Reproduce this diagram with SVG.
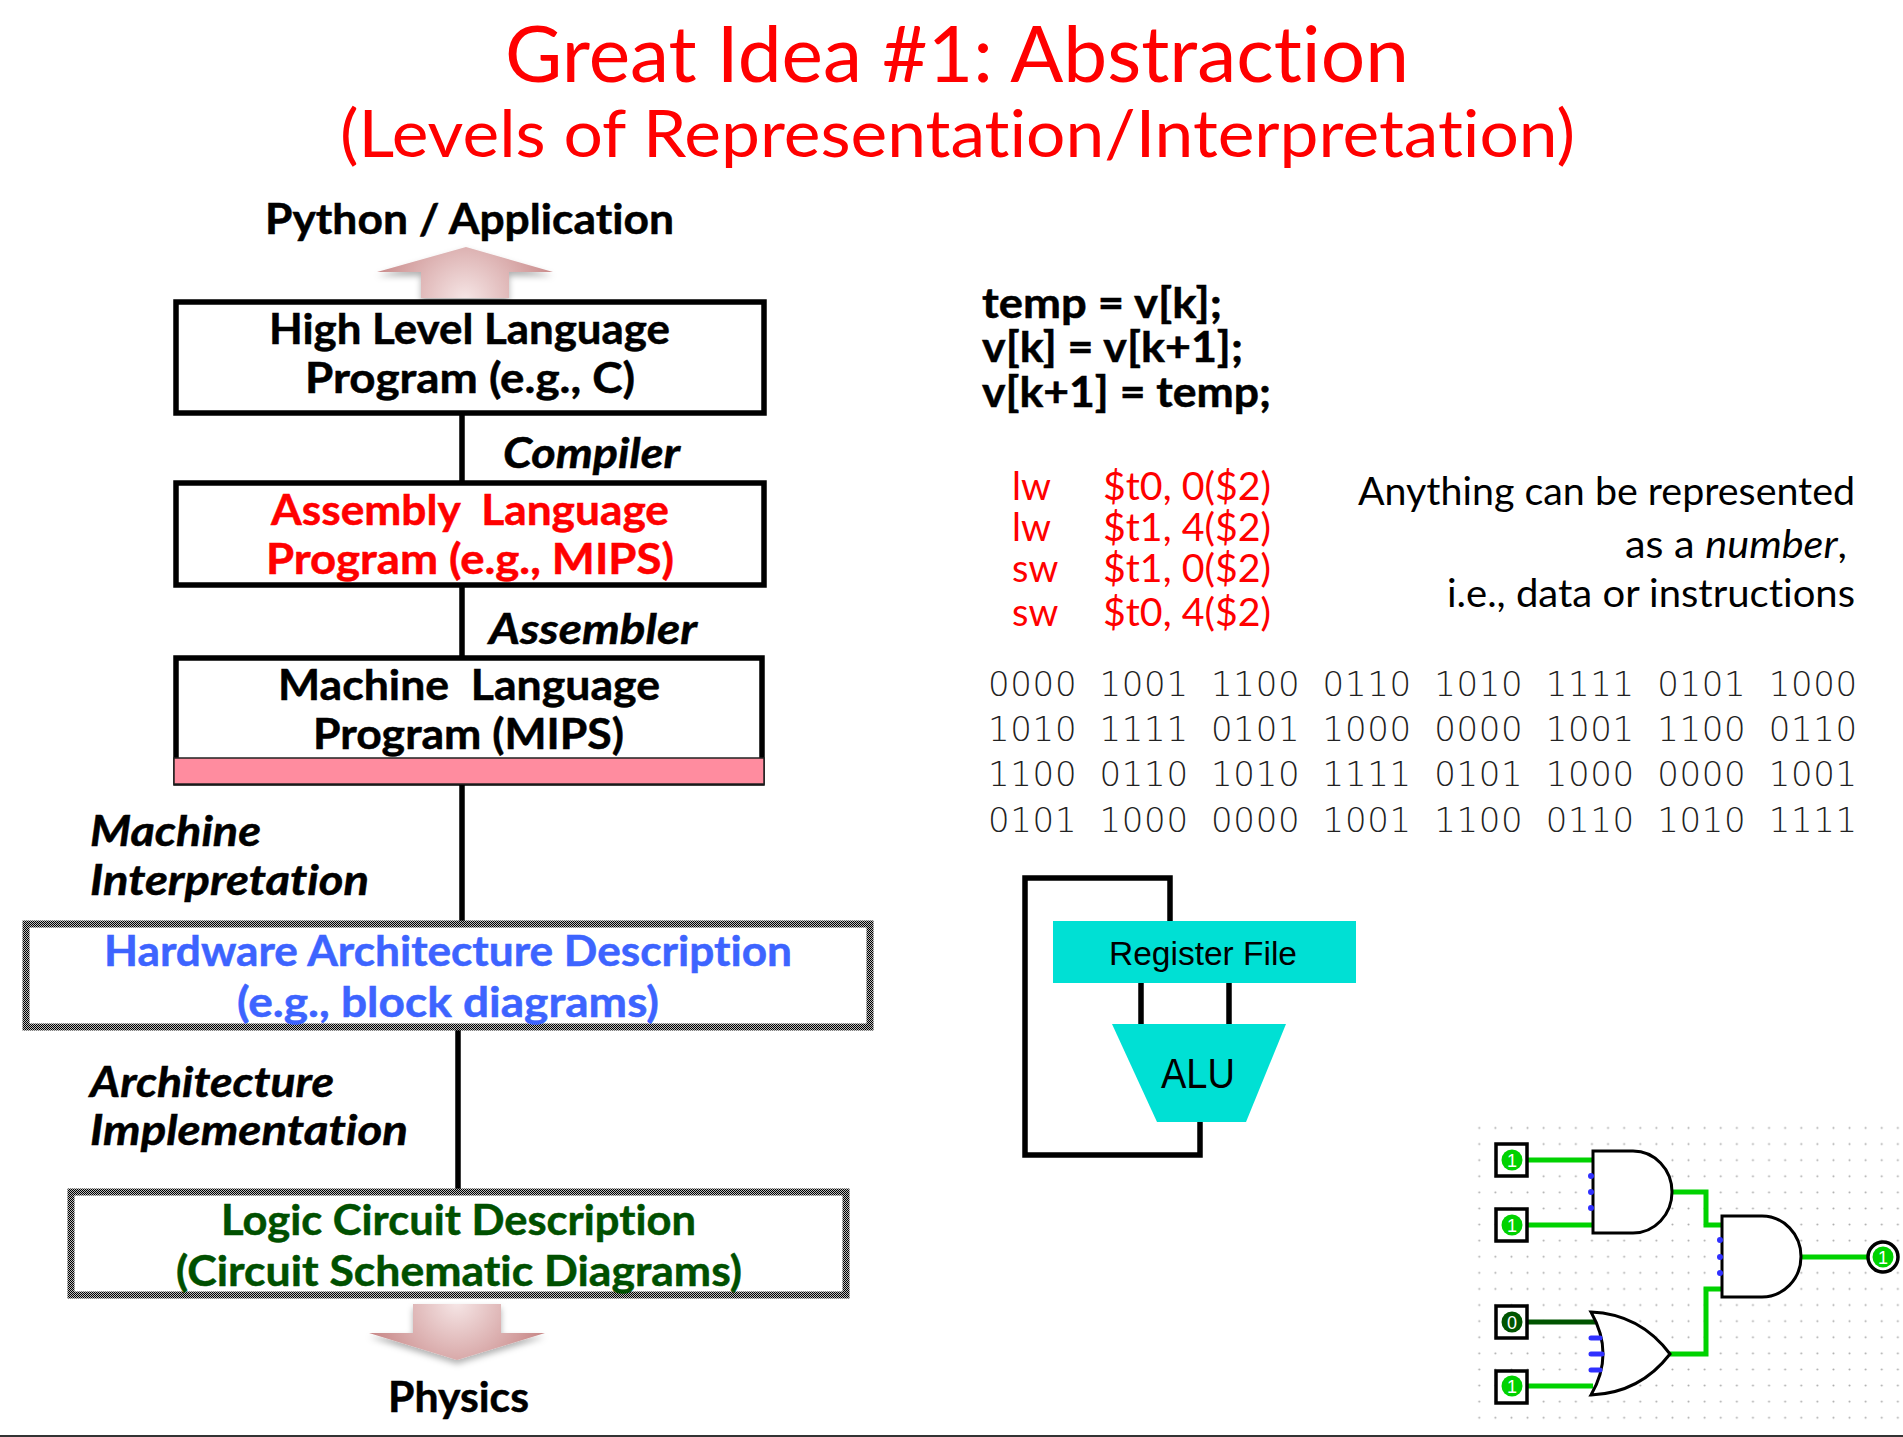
<svg xmlns="http://www.w3.org/2000/svg" width="1903" height="1437" viewBox="0 0 1903 1437">
<style>
text{font-family:"Lato","Liberation Sans",sans-serif;font-variant-ligatures:none}
.t{fill:#f00;font-size:78px}
.t2{fill:#f00;font-size:66px}
.b{font-weight:700;font-size:42px;fill:#000;stroke:#000;stroke-width:.5}
.i{font-weight:700;font-style:italic;font-size:42px;fill:#000;stroke:#000;stroke-width:.5}
.red{fill:#f00;stroke:#f00}.blue{fill:#3d64ff;stroke:#3d64ff}.green{fill:#005000;stroke:#005000}
.n{font-size:39px;fill:#000}
.asm{font-size:38px;fill:#f00}
.bin{font-family:"DejaVu Sans",sans-serif;font-weight:200;font-size:34px;letter-spacing:.66px;word-spacing:10.9px;fill:#222}
.box{fill:#fff;stroke:#000;stroke-width:5.5}
.dbox{fill:#fff;stroke:url(#dither);stroke-width:7}
.conn{fill:none;stroke:#000;stroke-width:5.5}
.cy{fill:#00e0d4}
.ar{font-family:"Liberation Sans",sans-serif;fill:#000}
.g{fill:#fff;stroke:#000;stroke-width:3}
.pin{fill:#fff;stroke:#000;stroke-width:3.5}
.on{fill:#00d200}.off{fill:#005400}
.w{fill:none;stroke:#00d200;stroke-width:5}
.wd{fill:none;stroke:#005400;stroke-width:5}
.bd{fill:#3030ff}
.bs{fill:none;stroke:#3030ff;stroke-width:5;stroke-linecap:round}
.v{font-family:"Liberation Sans",sans-serif;font-size:18px;fill:#fff;text-anchor:middle}
</style>
<defs>
<pattern id="dither" width="2" height="2" patternUnits="userSpaceOnUse"><rect width="2" height="2" fill="#bbb"/><rect width="1" height="1" fill="#000"/><rect x="1" y="1" width="1" height="1" fill="#000"/></pattern>
<pattern id="dots" x="1471.2" y="1119.9" width="16.1" height="16.1" patternUnits="userSpaceOnUse"><circle cx="8.05" cy="8.05" r="1" fill="#aaa"/></pattern>
<radialGradient id="gu" gradientUnits="userSpaceOnUse" cx="465" cy="300" r="95"><stop offset="0" stop-color="#f6e6e6"/><stop offset="1" stop-color="#c88888"/></radialGradient>
<radialGradient id="gd" gradientUnits="userSpaceOnUse" cx="457" cy="1302" r="90"><stop offset="0" stop-color="#f6e6e6"/><stop offset="1" stop-color="#c88888"/></radialGradient>
<filter id="sh" x="-20%" y="-20%" width="140%" height="150%"><feDropShadow dx="0" dy="4" stdDeviation="3" flood-color="#000" flood-opacity=".3"/></filter>
</defs>
<rect width="1903" height="1437" fill="#fff"/>
<rect y="1435" width="1903" height="2" fill="#333"/>

<g id="title">
<text class="t" x="505" y="82" textLength="904" lengthAdjust="spacingAndGlyphs">Great Idea #1: Abstraction</text>
<text class="t2" x="340" y="157" textLength="1235" lengthAdjust="spacingAndGlyphs">(Levels of Representation/Interpretation)</text>
</g>

<g id="connectors">
<path class="conn" d="M462 413V483M462 585V658M462 784V921M458 1029V1190"/>
<path class="conn" d="M1170 921V878H1025V1155H1200V1122"/>
<path class="conn" d="M1141 981V1024M1229 981V1024"/>
</g>

<g id="arrow-up"><path d="M466 247L553 272H509V298H421V272H377Z" fill="url(#gu)" filter="url(#sh)"/></g>
<g id="python"><text class="b" x="265" y="234" textLength="409" lengthAdjust="spacingAndGlyphs">Python / Application</text></g>

<g id="hll"><rect class="box" x="176" y="302" width="588" height="111"/>
<text class="b" x="269" y="344" textLength="401" lengthAdjust="spacingAndGlyphs">High Level Language</text>
<text class="b" x="305" y="393" textLength="330" lengthAdjust="spacingAndGlyphs">Program (e.g., C)</text></g>
<g id="compiler"><text class="i" x="503" y="468" textLength="177" lengthAdjust="spacingAndGlyphs">Compiler</text></g>

<g id="assembly"><rect class="box" x="176" y="483" width="588" height="102"/>
<text class="b red" x="271" y="525" textLength="398" lengthAdjust="spacingAndGlyphs" xml:space="preserve">Assembly  Language</text>
<text class="b red" x="266" y="574" textLength="408" lengthAdjust="spacingAndGlyphs">Program (e.g., MIPS)</text></g>
<g id="assembler"><text class="i" x="489" y="644" textLength="208" lengthAdjust="spacingAndGlyphs">Assembler</text></g>

<g id="machine"><rect class="box" x="176" y="658" width="586" height="125"/>
<rect x="174" y="758" width="590" height="26" fill="#ff8c9f" stroke="#222" stroke-width="1.5"/>
<text class="b" x="278" y="700" textLength="382" lengthAdjust="spacingAndGlyphs" xml:space="preserve">Machine  Language</text>
<text class="b" x="313" y="749" textLength="311" lengthAdjust="spacingAndGlyphs">Program (MIPS)</text></g>

<g id="machine-interp"><text class="i" x="90" y="846" textLength="171" lengthAdjust="spacingAndGlyphs">Machine</text>
<text class="i" x="90" y="895" textLength="279" lengthAdjust="spacingAndGlyphs">Interpretation</text></g>

<g id="hardware"><rect class="dbox" x="26" y="924" width="844" height="103"/>
<text class="b blue" x="104" y="966" textLength="688" lengthAdjust="spacingAndGlyphs">Hardware Architecture Description</text>
<text class="b blue" x="237" y="1017" textLength="422" lengthAdjust="spacingAndGlyphs">(e.g., block diagrams)</text></g>

<g id="arch-impl"><text class="i" x="90" y="1097" textLength="244" lengthAdjust="spacingAndGlyphs">Architecture</text>
<text class="i" x="90" y="1145" textLength="318" lengthAdjust="spacingAndGlyphs">Implementation</text></g>

<g id="logic"><rect class="dbox" x="71" y="1192" width="775" height="103"/>
<text class="b green" x="221" y="1235" textLength="475" lengthAdjust="spacingAndGlyphs">Logic Circuit Description</text>
<text class="b green" x="176" y="1286" textLength="566" lengthAdjust="spacingAndGlyphs">(Circuit Schematic Diagrams)</text></g>

<g id="arrow-down"><path d="M413 1304H501V1333H545L457 1360L369 1333H413Z" fill="url(#gd)" filter="url(#sh)"/></g>
<g id="physics"><text class="b" x="388" y="1412" textLength="141" lengthAdjust="spacingAndGlyphs">Physics</text></g>

<g id="code">
<text class="b" x="982" y="318" textLength="240" lengthAdjust="spacingAndGlyphs">temp = v[k];</text>
<text class="b" x="982" y="362" textLength="261" lengthAdjust="spacingAndGlyphs">v[k] = v[k+1];</text>
<text class="b" x="982" y="407" textLength="289" lengthAdjust="spacingAndGlyphs">v[k+1] = temp;</text>
</g>

<g id="asm">
<text class="asm" x="1012" y="500" textLength="39" lengthAdjust="spacingAndGlyphs">lw</text><text class="asm" x="1103" y="500" textLength="168" lengthAdjust="spacingAndGlyphs">$t0, 0($2)</text>
<text class="asm" x="1012" y="541" textLength="39" lengthAdjust="spacingAndGlyphs">lw</text><text class="asm" x="1103" y="541" textLength="168" lengthAdjust="spacingAndGlyphs">$t1, 4($2)</text>
<text class="asm" x="1012" y="582">sw</text><text class="asm" x="1103" y="582" textLength="168" lengthAdjust="spacingAndGlyphs">$t1, 0($2)</text>
<text class="asm" x="1012" y="626">sw</text><text class="asm" x="1103" y="626" textLength="168" lengthAdjust="spacingAndGlyphs">$t0, 4($2)</text>
</g>

<g id="note">
<text class="n" x="1358" y="505" textLength="497" lengthAdjust="spacingAndGlyphs">Anything can be represented</text>
<text class="n" x="1625" y="558" textLength="222" lengthAdjust="spacingAndGlyphs">as a <tspan font-style="italic">number</tspan>,</text>
<text class="n" x="1447" y="607" textLength="408" lengthAdjust="spacingAndGlyphs">i.e., data or instructions</text>
</g>

<g id="binary">
<text class="bin" x="988" y="696">0000 1001 1100 0110 1010 1111 0101 1000</text>
<text class="bin" x="988" y="741">1010 1111 0101 1000 0000 1001 1100 0110</text>
<text class="bin" x="988" y="786">1100 0110 1010 1111 0101 1000 0000 1001</text>
<text class="bin" x="988" y="832">0101 1000 0000 1001 1100 0110 1010 1111</text>
</g>

<g id="register-file"><rect class="cy" x="1053" y="921" width="303" height="62"/>
<text class="ar" x="1109" y="965" font-size="33" textLength="188" lengthAdjust="spacingAndGlyphs">Register File</text></g>
<g id="alu"><path class="cy" d="M1112 1024H1286L1246 1122H1157Z"/>
<text class="ar" x="1161" y="1088" font-size="42" textLength="74" lengthAdjust="spacingAndGlyphs">ALU</text></g>

<g id="circuit">
<rect x="1471" y="1120" width="432" height="306" fill="url(#dots)"/>
<path class="w" d="M1528 1160H1593M1528 1225H1593M1672 1192H1706V1225H1722M1670 1354H1706V1289H1722M1801 1257H1868M1528 1386H1593"/>
<path class="wd" d="M1528 1322H1596"/>
<g id="and1"><path class="g" d="M1593 1151H1633A39 41 0 0 1 1633 1233H1593Z"/></g>
<g id="and2"><path class="g" d="M1722 1216H1762A39 40.5 0 0 1 1762 1297H1722Z"/></g>
<g id="or1"><path class="g" d="M1591 1312Q1640 1314 1670 1354Q1640 1393 1591 1395Q1615 1354 1591 1312Z"/></g>
<g fill="none"><circle class="bd" cx="1591" cy="1176" r="3"/><circle class="bd" cx="1591" cy="1192" r="3"/><circle class="bd" cx="1591" cy="1208" r="3"/>
<circle class="bd" cx="1720" cy="1240" r="3"/><circle class="bd" cx="1720" cy="1257" r="3"/><circle class="bd" cx="1720" cy="1273" r="3"/></g>
<path class="bs" d="M1591 1338H1600M1591 1354H1602M1591 1370H1600"/>
<g id="in1"><rect class="pin" x="1496" y="1144" width="31" height="32"/><circle class="on" cx="1512" cy="1160" r="10.5"/><text class="v" x="1512" y="1167">1</text></g>
<g id="in2"><rect class="pin" x="1496" y="1209" width="31" height="32"/><circle class="on" cx="1512" cy="1225" r="10.5"/><text class="v" x="1512" y="1232">1</text></g>
<g id="in3"><rect class="pin" x="1496" y="1306" width="31" height="32"/><circle class="off" cx="1512" cy="1322" r="10.5"/><text class="v" x="1512" y="1329">0</text></g>
<g id="in4"><rect class="pin" x="1496" y="1371" width="31" height="32"/><circle class="on" cx="1512" cy="1386" r="10.5"/><text class="v" x="1512" y="1393">1</text></g>
<g id="out"><circle class="pin" cx="1883" cy="1257" r="15"/><circle class="on" cx="1883" cy="1257" r="10.5"/><text class="v" x="1883" y="1264">1</text></g>
</g>
</svg>
